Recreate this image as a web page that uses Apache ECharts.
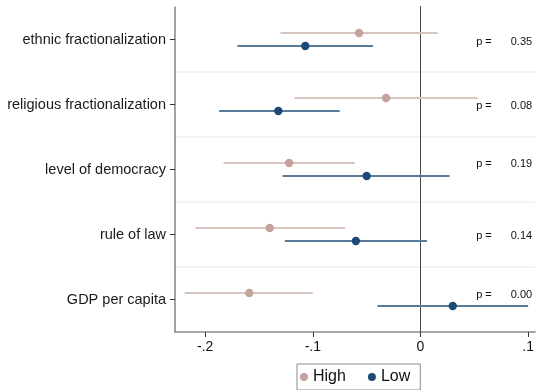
<!DOCTYPE html>
<html>
<head>
<meta charset="utf-8">
<script src="https://cdn.jsdelivr.net/npm/echarts@6/dist/echarts.min.js"></script>
<style>
  html, body { margin: 0; padding: 0; background: #ffffff; }
  #chart { width: 537px; height: 390px; }
</style>
</head>
<body>
<div id="chart"></div>
<script>
// Coefficients with 95% confidence intervals, by group
const categories = ['ethnic fractionalization', 'religious fractionalization', 'level of democracy', 'rule of law', 'GDP per capita'];
const highEst = [-0.057, -0.032, -0.122, -0.140, -0.159];
const highLo  = [-0.130, -0.117, -0.183, -0.209, -0.219];
const highHi  = [ 0.016,  0.053, -0.061, -0.070, -0.100];
const lowEst  = [-0.107, -0.132, -0.050, -0.060,  0.030];
const lowLo   = [-0.170, -0.187, -0.128, -0.126, -0.040];
const lowHi   = [-0.044, -0.075,  0.027,  0.006,  0.100];
const pValues = ['0.35', '0.08', '0.19', '0.14', '0.00'];
const xTicks = [-0.2, -0.1, 0, 0.1];
const xTickLabels = ['-.2', '-.1', '0', '.1'];

const FONT = '"Liberation Sans", Arial, Helvetica, sans-serif';
const HIGH_DOT = '#c3a39b', HIGH_LINE = '#d9c5bf';
const LOW_DOT = '#1c4a74', LOW_LINE = '#587b9c';

// one group's estimates: a horizontal CI line plus a dot, nudged within the category band
function ciSeries(name, est, lo, hi, side, lineColor, dotColor) {
  return {
    type: 'custom',
    name: name,
    z: 3,
    data: categories.map((c, i) => [est[i], i, lo[i], hi[i]]),
    encode: { x: [0, 2, 3], y: 1 },
    itemStyle: { color: dotColor },
    renderItem: function (params, api) {
      const band = api.size([0, 1])[1];
      const p = api.coord([api.value(0), api.value(1)]);
      const a = api.coord([api.value(2), api.value(1)]);
      const b = api.coord([api.value(3), api.value(1)]);
      const y = p[1] + side * band * 0.1;
      return {
        type: 'group',
        children: [
          { type: 'line', shape: { x1: a[0], y1: y, x2: b[0], y2: y }, style: { stroke: lineColor, lineWidth: 2 } },
          { type: 'circle', shape: { cx: p[0], cy: y, r: 4.2 }, style: { fill: dotColor } }
        ]
      };
    }
  };
}

// vertical reference line at zero
const zeroLine = {
  type: 'custom',
  name: 'zero',
  silent: true,
  z: 1,
  data: [[0, 0]],
  encode: { x: 0, y: 1 },
  renderItem: function (params, api) {
    const cs = params.coordSys;
    const x = Math.round(api.coord([0, 0])[0]) + 0.5;
    return { type: 'line', shape: { x1: x, y1: cs.y - 1, x2: x, y2: cs.y + cs.height }, style: { stroke: '#4a4a4a', lineWidth: 1 } };
  }
};

// test p-values printed at the right edge of each row
const pRowNudge = [2.5, 1, -6, 1, -5];
const pLabels = {
  type: 'custom',
  name: 'pvalues',
  silent: true,
  z: 4,
  data: pValues.map((p, i) => [0, i]),
  encode: { x: 0, y: 1 },
  renderItem: function (params, api) {
    const cs = params.coordSys;
    const right = cs.x + cs.width;
    const i = params.dataIndex;
    const y = api.coord([0, i])[1] + pRowNudge[i];
    const ts = { fontFamily: FONT, fontSize: 11, fill: '#111', verticalAlign: 'middle' };
    return {
      type: 'group',
      children: [
        { type: 'text', style: Object.assign({ text: 'p =', x: right - 59, y: y, align: 'left' }, ts) },
        { type: 'text', style: Object.assign({ text: pValues[i], x: right - 3, y: y, align: 'right' }, ts) }
      ]
    };
  }
};

const chart = echarts.init(document.getElementById('chart'), null, { renderer: 'canvas' });
chart.setOption({
  animation: false,
  backgroundColor: '#ffffff',
  textStyle: { fontFamily: FONT },
  grid: { left: 175, right: 1, top: 7, bottom: 58, containLabel: false },
  xAxis: {
    type: 'value',
    min: -0.228,
    max: 0.1065,
    axisLine: { show: true, onZero: false, lineStyle: { color: '#8c8c8c', width: 1.6 } },
    axisTick: { show: true, length: 5, lineStyle: { color: '#333', width: 1 }, customValues: xTicks },
    axisLabel: {
      show: true, margin: 8, fontSize: 14, color: '#111', fontFamily: FONT,
      customValues: xTicks,
      formatter: function (v) {
        const k = xTicks.findIndex(t => Math.abs(t - v) < 1e-9);
        return k >= 0 ? xTickLabels[k] : '';
      }
    },
    splitLine: { show: false }
  },
  yAxis: {
    type: 'category',
    data: categories,
    inverse: true,
    boundaryGap: true,
    axisLine: { show: true, onZero: false, lineStyle: { color: '#8c8c8c', width: 1.6 } },
    axisTick: { show: true, alignWithLabel: true, length: 5, lineStyle: { color: '#333', width: 1 } },
    axisLabel: { margin: 9, fontSize: 14.5, color: '#1a1a1a', fontFamily: FONT },
    splitLine: { show: true, showMinLine: false, showMaxLine: false, lineStyle: { color: '#eaf1f0', width: 1.5 } }
  },
  legend: {
    show: true,
    left: 297,
    top: 364,
    orient: 'horizontal',
    data: [{ name: 'High', icon: 'circle' }, { name: 'Low', icon: 'circle' }],
    itemWidth: 8,
    itemHeight: 8,
    itemGap: 22,
    padding: [5, 10, 5, 3],
    borderColor: '#8c8c8c',
    borderWidth: 1,
    textStyle: { fontSize: 16, color: '#111', fontFamily: FONT }
  },
  series: [
    zeroLine,
    ciSeries('High', highEst, highLo, highHi, -1, HIGH_LINE, HIGH_DOT),
    ciSeries('Low', lowEst, lowLo, lowHi, 1, LOW_LINE, LOW_DOT),
    pLabels
  ]
});
</script>
</body>
</html>
